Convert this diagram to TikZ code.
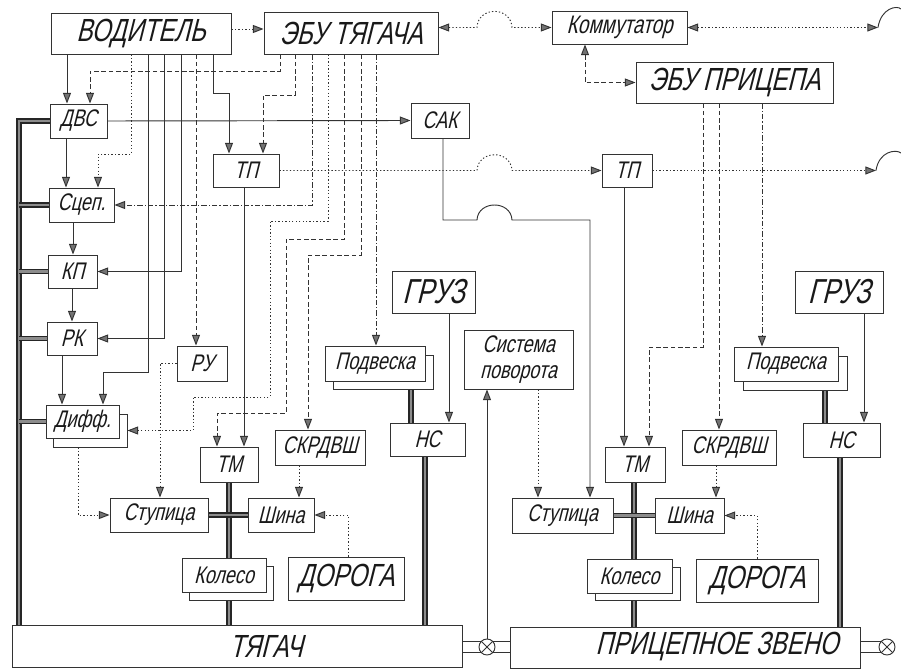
\documentclass[tikz,border=0pt]{standalone}
\usepackage{fontspec}
\usetikzlibrary{arrows.meta}
\newfontfamily\gost[FakeStretch=0.75,FakeSlant=0.25]{Liberation Sans}
\newcommand\gS{\gost\fontsize{18}{19}\selectfont}
\newcommand\gK{\gost\fontsize{19}{20}\selectfont}
\newcommand\gM{\gost\fontsize{24}{26}\selectfont}
\newcommand\gL{\gost\fontsize{24}{26}\selectfont}
\newcommand\gG{\gost\fontsize{26}{28}\selectfont}
\pgfdeclarelayer{bg}
\pgfsetlayers{bg,main}
\newcommand\bx[7][]{%
  \pgfmathsetmacro\myW{(#5-#3)*0.75}%
  \pgfmathsetmacro\myH{(#6-#4)*0.75}%
  \node[box,minimum width=\myW pt,minimum height=\myH pt,#1] (#2) at ({(#3+#5)/2},{(#4+#6)/2}) {#7};}
\begin{document}
\begin{tikzpicture}[x=0.75pt,y=-0.75pt,
  box/.style={draw=black!80,line width=0.7pt,fill=white,inner sep=0pt,font=\gS,text=black!90},
  ln/.style={draw=black!80,line width=0.7pt},
  >={Triangle[length=8pt,width=6pt,fill=black!55]},
  arr/.style={ln,->},
  both/.style={ln,<->},
  lDot/.style={dash pattern=on 1pt off 1.6pt},
  lDsh/.style={dash pattern=on 3.5pt off 2pt},
  lDD/.style={dash pattern=on 4pt off 1.5pt on 1pt off 1.5pt},
  bus/.style={draw=black!85,line width=1.3pt,double=black!45,double distance=1.7pt},
  cpl/.style={circle,draw=black!80,line width=0.7pt,fill=white,minimum size=12pt,inner sep=0pt}]
\useasboundingbox (0,0) rectangle (901,670);
% ---------- boxes ----------
\bx{vod}{51}{13}{231}{54}{\gM ВОДИТЕЛЬ}
\bx{ebuT}{264}{12}{438}{54}{\gM ЭБУ ТЯГАЧА}
\bx{kom}{552}{11}{687}{44}{\gK Коммутатор}
\bx{ebuP}{636}{62}{833}{103}{\gM ЭБУ ПРИЦЕПА}
\bx{dvs}{50}{104}{107}{138}{ДВС}
\bx{sak}{411}{103}{469}{138}{САК}
\bx{tp1}{213}{154}{279}{187}{ТП}
\bx{tp2}{602}{154}{652}{187}{ТП}
\bx{scep}{49}{188}{114}{222}{Сцеп.}
\bx{kp}{48}{255}{97}{288}{КП}
\bx{rk}{47}{322}{97}{355}{РК}
\bx{ru}{177}{346}{227}{381}{РУ}
\bx{gruz1}{392}{271}{475}{313}{\gG ГРУЗ}
\bx{gruz2}{795}{271}{883}{313}{\gG ГРУЗ}
\bx{pod1s}{333}{355}{433}{389}{}
\bx{pod1}{325}{346}{425}{381}{Подвеска}
\bx{pod2s}{743}{356}{847}{390}{}
\bx{pod2}{734}{347}{838}{381}{Подвеска}
\bx[align=center]{sys}{464}{330}{573}{389}{Система\\поворота}
\bx{diffs}{53}{414}{127}{447}{}
\bx{diff}{46}{405}{119}{438}{Дифф.}
\bx{nc1}{390}{423}{465}{456}{НС}
\bx{nc2}{803}{423}{880}{457}{НС}
\bx{tm1}{200}{447}{258}{482}{ТМ}
\bx{tm2}{605}{447}{665}{482}{ТМ}
\bx{skr1}{275}{430}{365}{465}{СКРДВШ}
\bx{skr2}{682}{430}{776}{465}{СКРДВШ}
\bx{stup1}{110}{498}{208}{532}{Ступица}
\bx{shina1}{248}{498}{314}{532}{Шина}
\bx{stup2}{512}{498}{613}{533}{Ступица}
\bx{shina2}{655}{498}{724}{533}{Шина}
\bx{kol1s}{189}{566}{273}{600}{}
\bx{kol1}{182}{558}{266}{592}{Колесо}
\bx{kol2s}{595}{567}{680}{600}{}
\bx{kol2}{587}{559}{672}{593}{Колесо}
\bx{dor1}{288}{557}{404}{600}{\gL ДОРОГА}
\bx{dor2}{696}{559}{818}{602}{\gL ДОРОГА}
\bx{tyag}{12}{625}{462}{667}{}
\node[font=\gL,text=black!90] (tyagT) at (266,646) {ТЯГАЧ};
\bx{pric}{510}{627}{860}{668}{}
\node[font=\gL,text=black!90] (pricT) at (717,647) {ПРИЦЕПНОЕ ЗВЕНО};
\node[cpl] (cp1) at (487,647) {};
\draw[ln] (cp1.north west) -- (cp1.south east) (cp1.north east) -- (cp1.south west);
\node[cpl] (cp2) at (887,647) {};
\draw[ln] (cp2.north west) -- (cp2.south east) (cp2.north east) -- (cp2.south west);
\coordinate (komR) at (878,27.5);
\coordinate (tpR) at (876,170.5);
% ---------- connectors ----------
\begin{pgfonlayer}{bg}
% top row
\draw[arr,lDot] (vod.east |- 0,29) -- (ebuT.west |- 0,29);
\draw[both,lDot] (ebuT.east |- kom.west) -- (477,27.5) .. controls (478,6) and (511,6) .. (512,27.5) -- (kom.west);
\draw[both,lDot] (kom.east) -- (komR);
\draw[ln] (komR) .. controls (881,8) and (897,5) .. (901,9);
\draw[both,lDsh] (585,0 |- kom.south) |- (ebuP.west);
% DVS -> SAK, SAK -> stupica 2
\draw[arr] (dvs.east) -- (sak.west);
\draw[arr] (443,0 |- sak.south) -- (443,220) -- (477,220) .. controls (478,200) and (511,200) .. (512,220) -- (590,220) -- (590,0 |- stup2.north);
% TP line
\draw[arr,lDot] (tp1.east) -- (477,170.5) .. controls (478,149.5) and (511,149.5) .. (512,170.5) -- (tp2.west);
\draw[arr,lDot] (tp2.east) -- (tpR);
\draw[ln] (tpR) .. controls (879,151) and (896,149) .. (901,153);
\draw[arr] (244,0 |- tp1.south) -- (244,0 |- tm1.north);
\draw[arr] (624,0 |- tp2.south) -- (624,0 |- tm2.north);
% driver outputs
\draw[arr] (67,0 |- vod.south) -- (67,0 |- dvs.north);
\draw[arr,lDot] (131,0 |- vod.south) -- (131,154) -- (98,154) -- (98,0 |- scep.north);
\draw[arr] (148,0 |- vod.south) |- (103,372) -- (103,0 |- diff.north);
\draw[arr] (164,0 |- vod.south) |- (rk.east);
\draw[arr] (181,0 |- vod.south) |- (kp.east);
\draw[arr,lDsh] (196,0 |- vod.south) -- (196,0 |- ru.north);
\draw[arr] (213,0 |- vod.south) -- (213,93) -- (229,93) -- (229,0 |- tp1.north);
% tractor ECU outputs
\draw[arr,lDsh] (280,0 |- ebuT.south) |- (90,71) -- (90,0 |- dvs.north);
\draw[arr,lDsh] (295,0 |- ebuT.south) |- (263,95) -- (263,0 |- tp1.north);
\draw[arr,lDD] (312,0 |- ebuT.south) |- (scep.east);
\draw[arr,lDot] (328,0 |- ebuT.south) |- (270,221) |- (193,397) |- (diffs.east);
\draw[arr,lDsh] (344,0 |- ebuT.south) |- (286,239) |- (217,413) -- (217,0 |- tm1.north);
\draw[arr,lDsh] (361,0 |- ebuT.south) |- (308,255) -- (308,0 |- skr1.north);
\draw[arr,lDD] (376,0 |- ebuT.south) -- (376,0 |- pod1.north);
% trailer ECU outputs
\draw[arr,lDsh] (703,0 |- ebuP.south) |- (649,347) -- (649,0 |- tm2.north);
\draw[arr,lDsh] (719,0 |- ebuP.south) -- (719,0 |- skr2.north);
\draw[arr,lDD] (762,0 |- ebuP.south) -- (762,0 |- pod2.north);
% left column chain
\draw[arr] (66,0 |- dvs.south) -- (66,0 |- scep.north);
\draw[arr] (73,0 |- scep.south) -- (73,0 |- kp.north);
\draw[arr] (72,0 |- kp.south) -- (72,0 |- rk.north);
\draw[arr] (62,0 |- rk.south) -- (62,0 |- diff.north);
% lower part
\draw[arr,lDot] (ru.west) -| (160,0 |- stup1.north);
\draw[arr,lDot] (78,0 |- diffs.south) |- (stup1.west);
\draw[arr,lDot] (348,0 |- dor1.north) |- (shina1.east);
\draw[arr,lDot] (757,0 |- dor2.north) |- (shina2.east);
\draw[arr,lDot] (299,0 |- skr1.south) -- (299,0 |- shina1.north);
\draw[arr,lDot] (716,0 |- skr2.south) -- (716,0 |- shina2.north);
\draw[arr] (449,0 |- gruz1.south) -- (449,0 |- nc1.north);
\draw[arr] (864,0 |- gruz2.south) -- (864,0 |- nc2.north);
\draw[arr,lDot] (538,0 |- sys.south) -- (538,0 |- stup2.north);
\draw[arr] (cp1.north) -- (cp1.north |- sys.south);
% coupling lines
\draw[ln] (tyag.east |- 0,641) -- (pric.west |- 0,641) (tyag.east |- 0,652) -- (pric.west |- 0,652);
\draw[ln] (pric.east |- 0,641) -- (cp2.center |- 0,641) (pric.east |- 0,652) -- (cp2.center |- 0,652);
% thick bars
\draw[bus] (dvs.west) -| (19,0 |- tyag.north);
\draw[bus] (scep.west) -- (19,0 |- scep.west);
\draw[bus] (kp.west) -- (19,0 |- kp.west);
\draw[bus] (rk.west) -- (19,0 |- rk.west);
\draw[bus] (diff.west) -- (19,0 |- diff.west);
\draw[bus] (229,0 |- tm1.south) -- (229,0 |- tyag.north);
\draw[bus] (stup1.east) -- (shina1.west);
\draw[bus] (634,0 |- tm2.south) -- (634,0 |- pric.north);
\draw[bus] (stup2.east) -- (shina2.west);
\draw[bus] (411,0 |- pod1s.south) -- (411,0 |- nc1.north);
\draw[bus] (425,0 |- nc1.south) -- (425,0 |- tyag.north);
\draw[bus] (825,0 |- pod2s.south) -- (825,0 |- nc2.north);
\draw[bus] (840,0 |- nc2.south) -- (840,0 |- pric.north);
\end{pgfonlayer}
\end{tikzpicture}
\end{document}
